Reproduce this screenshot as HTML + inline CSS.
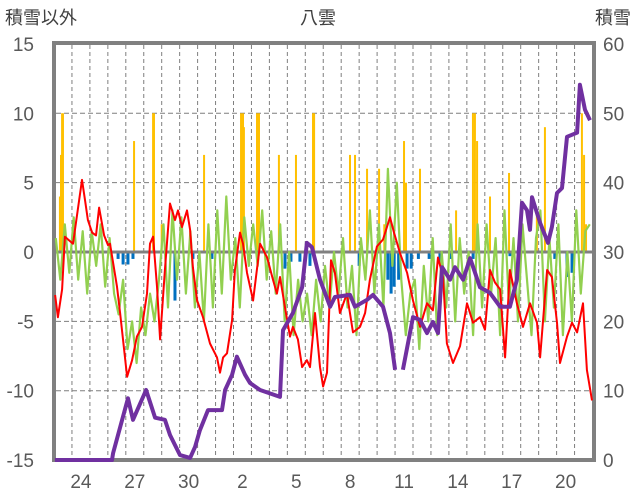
<!DOCTYPE html>
<html><head><meta charset="utf-8"><style>
html,body{margin:0;padding:0;background:#fff;}
svg{display:block;font-family:"Liberation Sans","Noto Sans CJK JP",sans-serif;}
</style></head><body>
<svg id="chart" width="636" height="501" viewBox="0 0 636 501">
<text x="5" y="24" font-size="18" fill="#404040">積雪以外</text>
<text x="318" y="24" font-size="18" fill="#404040" text-anchor="middle">八雲</text>
<text x="631" y="24" font-size="18" fill="#404040" text-anchor="end">積雪</text>
<g id="grid"></g>
<g id="ticks"></g>
<g id="bars"></g>
<rect x="54" y="43" width="540" height="417" fill="none" stroke="#808080" stroke-width="4"/>
<g id="lines"></g>
</svg>
<script>
const leftTicks=[15,10,5,0,-5,-10,-15];
const rightTicks=[60,50,40,30,20,10,0];
const dayLabels=["24","27","30","2","5","8","11","14","17","20"];
const dayLabelT=[1.5,4.5,7.5,10.5,13.5,16.5,19.5,22.5,25.5,28.5];
const snowT=[0.05,3.23,3.29,4.12,4.40,5.13,5.63,6.18,6.46,7.02,7.58,7.86,8.13,8.58,9.36,9.53,9.92,10.19,10.64,10.92,11.48,12.59,12.76,13.31,13.82,14.09,14.37,14.82,15.38,15.65,16.49,16.77,17.44,17.77,18.33,18.72,19.00,null,19.44,20.00,20.39,20.78,21.11,21.39,21.62,22.06,22.34,22.79,23.18,23.73,24.29,24.85,25.40,25.79,26.07,26.35,26.52,26.63,27.08,27.52,27.74,28.02,28.30,28.58,29.14,29.30,29.58,29.86];
const snowV=[0,0,1,8.9,5.8,10.1,6.1,5.8,3.6,0.7,0.3,1.9,4.3,7.2,7.2,10.1,12.3,14.9,12.3,11.1,10.1,9.1,18.7,21.2,24.9,31.3,30.7,26.0,22.1,23.5,23.8,22.1,23.1,23.8,22.1,18.3,13.0,null,13.0,20.6,20.2,18.3,19.9,18.3,27.8,26.0,27.8,26.0,29.1,24.9,24.1,22.1,22.1,26.0,37.1,36.0,33.2,37.9,34.2,31.3,33.6,38.5,39.2,46.6,47.2,54.1,50.5,49.0];
const tempT=[0.06,0.22,0.45,0.61,1.06,1.56,1.73,1.89,2.12,2.34,2.51,2.79,3.01,3.12,3.51,3.68,4.07,4.35,4.62,4.90,5.18,5.35,5.52,5.74,5.91,6.18,6.46,6.74,6.91,7.13,7.41,7.58,7.74,7.97,8.30,8.69,9.08,9.25,9.42,9.64,9.92,10.08,10.36,10.53,10.75,11.09,11.48,11.87,12.20,12.42,12.59,12.87,13.15,13.31,13.59,13.82,14.09,14.26,14.54,14.82,14.99,15.21,15.43,15.65,15.93,16.32,16.66,17.05,17.33,17.60,17.99,18.33,18.72,18.94,19.28,19.67,20.00,20.39,20.78,21.11,21.39,21.67,21.89,22.23,22.62,23.01,23.34,23.73,24.01,24.29,24.57,24.85,25.13,25.40,25.79,26.13,26.52,26.91,27.08,27.47,27.74,28.02,28.19,28.58,28.86,29.14,29.47,29.69,29.97];
const tempV=[-3.1,-4.7,-2.7,1.1,0.6,5.2,3.7,2.3,1.4,1.2,3.2,1.2,0.5,0.6,-2.5,-4.4,-9.0,-7.8,-6.1,-5.4,-3.0,0.6,1.1,-2.5,-6.3,-1.3,3.5,2.3,3.0,1.8,3.0,1.6,-1.1,-3.5,-4.7,-6.6,-7.6,-8.7,-7.6,-7.3,-4.9,-1.3,1.4,0.6,-1.5,-3.5,0.6,-0.4,-2.0,-3.0,-1.8,-4.0,-6.1,-5.4,-6.3,-8.3,-7.8,-8.3,-4.4,-8.3,-9.7,-8.7,-0.6,-1.5,-4.4,-3.0,-5.8,-5.4,-4.4,-2.0,0.4,0.9,2.5,1.4,-0.1,-1.5,-3.5,-5.4,-3.7,-4.2,-0.4,-1.8,-6.6,-8.0,-6.8,-3.7,-5.1,-4.7,-5.6,-1.3,-2.2,-2.7,-7.6,-1.3,-3.7,-5.4,-3.7,-5.1,-7.6,-1.3,-1.8,-5.1,-8.0,-6.1,-5.1,-5.8,-3.7,-8.5,-10.7];
const windV=[1,-2,2,-1.5, 2.5,-2,1.5,-3, 1.5,-1,2,-2.5, 1,-3,-4.5,-2, -7,-5,-8,-4, -6,-3,-5,-2, 2,-4,3,-2, 2.5,-3,1.5,-4, 0,-5,2,-4, 3,-3,4,-2, 1,-4,2.5,-1, 2,-1,3,-2, 1.5,-3,2,-5, 0,-6,-2,-5, -3,-6,-2,-5, -1,-4,0,-3, 1,-4,-1,-6, 1,-2,3,-3, 2,-4,6,-1, 5,-2,-6,-3, -2,-7,-1,-5, 1,-6,0,-4, 2,-5,1,-3, 0,-6,2,-4, 2,-3,1,-6, 3,-4,1,-5, 2,-2,-6,1, 3,-5,1,-4, 2,-6,0,-5, 3,-3,1.5,2];
const precipT=[0.33,0.39,0.45,0.5,4.46,5.52,5.57,6.0,8.36,10.42,10.53,10.58,11.31,11.42,12.53,13.48,14.43,14.49,16.49,16.77,17.44,18.11,18.4,19.5,19.61,20.39,22.4,23.34,23.45,23.57,24.29,25.35,26.9,27.35,29.41,29.53,29.64];
const precipV=[4,7,10,10,8,10,10,2,7,10,10,9,10,10,7,7,10,10,7,7,6,6,2,8,5,6,3,10,10,8,4,5.7,3,9,10,7,2];
const meltT=[3.57,3.85,4.12,4.4,6.74,7.74,8.8,12.87,13.2,13.7,14.26,17.0,18.6,18.78,18.95,19.2,19.67,19.9,20.3,20.9,21.5,22.1,23.35,25.4,27.9,28.58,28.86];
const meltV=[-0.5,-0.9,-0.9,-0.5,-3.5,-0.5,-0.5,-1.2,-0.7,-0.7,-1.0,-1.0,-2.0,-3.0,-2.5,-2.0,-1.2,-1.2,-0.5,-0.5,-0.8,-0.5,-0.5,-0.3,-0.5,-1.8,-1.5];

const X0=54,DX=17.95;
function xs(t){return X0+t*DX;}
function yl(v){return 252-v*13.87;}
function yr(s){return 460-s*6.935;}
const NS="http://www.w3.org/2000/svg";
function mk(tag,attrs,parent){const e=document.createElementNS(NS,tag);for(const k in attrs)e.setAttribute(k,attrs[k]);parent.appendChild(e);return e;}
const grid=document.getElementById('grid'),ticks=document.getElementById('ticks'),bars=document.getElementById('bars'),lines=document.getElementById('lines');

for(let d=1;d<30;d++){
  const l=mk('line',{x1:xs(d),x2:xs(d),y1:45,y2:458,stroke:'#7f7f7f','stroke-width':1,'stroke-dasharray':'4,3'},grid);
  
  
}
leftTicks.forEach(v=>{
  if(v!==15&&v!==-15&&v!==0){
    const g=mk('line',{x1:56,x2:592,y1:yl(v),y2:yl(v),stroke:'#7f7f7f','stroke-width':1,'stroke-dasharray':'5,3'},grid);
    
    
  }
  const t=mk('text',{x:34,y:yl(v)+7,'font-size':19,fill:'#595959','text-anchor':'end'},ticks);
  t.textContent=v;
  
  
});
rightTicks.forEach(s=>{
  const t=mk('text',{x:603,y:yr(s)+7,'font-size':19,fill:'#595959'},ticks);
  t.textContent=s;
  
  
});
dayLabels.forEach((lab,i)=>{
  const t=mk('text',{x:xs(dayLabelT[i]),y:488,'font-size':19,fill:'#595959','text-anchor':'middle'},ticks);
  t.textContent=lab;
  
  
});
precipT.forEach((t,i)=>{
  const v=Math.min(precipV[i],10);
  const r=mk('rect',{x:xs(t)-1,y:yl(v),width:2,height:yl(0)-yl(v),fill:'#ffc000'},bars);
  
  
});
meltT.forEach((t,i)=>{
  const r=mk('rect',{x:xs(t)-1.5,y:yl(0),width:3,height:yl(meltV[i])-yl(0),fill:'#0070c0'},bars);
  
  
});
const zl=mk('line',{x1:56,x2:592,y1:yl(0),y2:yl(0),stroke:'#808080','stroke-width':3},bars);



function pathFrom(ts,vs,yf){
  let d='',pen=false;
  for(let i=0;i<ts.length;i++){
    if(ts[i]===null||vs[i]===null){pen=false;continue;}
    d+=(pen?'L':'M')+xs(ts[i]).toFixed(1)+','+yf(vs[i]).toFixed(1);pen=true;
  }
  return d;
}
const windT=windV.map((_,i)=>i*0.25+0.1);
const gp=mk('path',{d:pathFrom(windT,windV,yl),fill:'none',stroke:'#92d050','stroke-width':2.2,'stroke-linejoin':'round'},lines);


const rp=mk('path',{d:pathFrom(tempT,tempV,yl),fill:'none',stroke:'#ff0000','stroke-width':2,'stroke-linejoin':'round'},lines);


const pp=mk('path',{d:pathFrom(snowT,snowV,yr),fill:'none',stroke:'#7030a0','stroke-width':4,'stroke-linejoin':'round'},lines);


</script>
</body></html>
